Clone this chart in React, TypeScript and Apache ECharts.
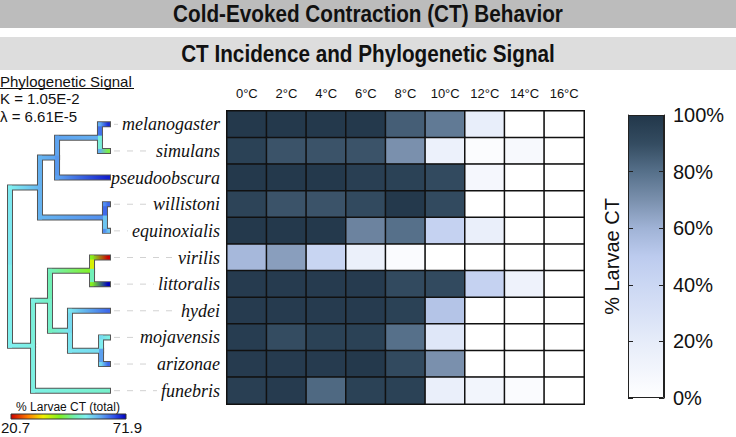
import React, { useEffect, useRef } from 'react';
import * as echarts from 'echarts';

// ---------- data ----------
const temperatures = ['0°C', '2°C', '4°C', '6°C', '8°C', '10°C', '12°C', '14°C', '16°C'];
const species = ['melanogaster', 'simulans', 'pseudoobscura', 'willistoni', 'equinoxialis', 'virilis', 'littoralis', 'hydei', 'mojavensis', 'arizonae', 'funebris'];

const ctMelanogaster = [99, 99, 99, 99, 85, 77, 18, 0, 0];
const ctSimulans = [95, 88, 88, 88, 70, 15, 3, 6, 0];
const ctPseudoobscura = [99, 99, 99, 96, 95, 91, 8, 0, 0];
const ctWillistoni = [94, 88, 88, 91, 99, 91, 0, 0, 0];
const ctEquinoxialis = [99, 99, 99, 74, 80, 44, 17, 0, 0];
const ctVirilis = [58, 66, 42, 16, 4, 0, 0, 0, 0];
const ctLittoralis = [98, 98, 98, 98, 91, 91, 44, 13, 0];
const ctHydei = [98, 98, 98, 98, 95, 53, 0, 0, 0];
const ctMojavensis = [97, 90, 95, 95, 80, 25, 0, 0, 0];
const ctArizonae = [98, 98, 98, 99, 91, 70, 0, 0, 0];
const ctFunebris = [96, 98, 82, 95, 95, 17, 10, 4, 0];
const ctRows = [ctMelanogaster, ctSimulans, ctPseudoobscura, ctWillistoni, ctEquinoxialis, ctVirilis, ctLittoralis, ctHydei, ctMojavensis, ctArizonae, ctFunebris];

const colorbarTicks = [0, 20, 40, 60, 80, 100];

// phylogeny: internal nodes (depth = relative branch position, trait = reconstructed % larvae CT)
const treeNodeNames = ['root', 'nB', 'nA', 'nMS', 'nWE', 'nC', 'nD', 'nVL', 'nE', 'nMA'];
const treeNodeParents = [-1, 0, 1, 2, 1, 0, 5, 6, 6, 8];
const treeNodeDepths = [0, 0.306, 0.48, 0.918, 0.969, 0.235, 0.408, 0.837, 0.612, 0.929];
const treeNodeTraits = [54, 59.5, 61, 60, 62.5, 53, 50, 42, 55, 56];
// leaves follow species order
const leafParents = [3, 3, 2, 4, 4, 7, 7, 8, 9, 9, 5];
const leafTraits = [69, 44, 70, 65, 58, 20.7, 71.9, 65, 53, 65, 51];
const traitMin = 20.7;
const traitMax = 71.9;
const phyloK = '1.05E-2';
const phyloLambda = '6.61E-5';

// ---------- colour scales ----------
const ctColors = ['#ffffff', '#f2f5fc', '#e6ecf9', '#d8e1f6', '#cbd7f3', '#bccbee', '#a0b3d6', '#7a90ad', '#56708a', '#344c61', '#22374a'];
const traitStops: [number, string][] = [
  [0, '#cc0000'], [0.15, '#ff8000'], [0.28, '#f0f000'], [0.42, '#80f020'], [0.55, '#70f0b0'],
  [0.65, '#80f0f0'], [0.78, '#60a8f0'], [0.9, '#3050e8'], [1, '#0000c0'],
];

const hexToRgb = (h: string) => [parseInt(h.slice(1, 3), 16), parseInt(h.slice(3, 5), 16), parseInt(h.slice(5, 7), 16)];
function traitColor(v: number): string {
  const t = Math.max(0, Math.min(1, (v - traitMin) / (traitMax - traitMin)));
  for (let i = 1; i < traitStops.length; i++) {
    const [o1, c1] = traitStops[i - 1];
    const [o2, c2] = traitStops[i];
    if (t <= o2 + 1e-9) {
      const k = (t - o1) / (o2 - o1);
      const a = hexToRgb(c1), b = hexToRgb(c2);
      return `rgb(${Math.round(a[0] + (b[0] - a[0]) * k)},${Math.round(a[1] + (b[1] - a[1]) * k)},${Math.round(a[2] + (b[2] - a[2]) * k)})`;
    }
  }
  return traitStops[traitStops.length - 1][1];
}

// ---------- layout ----------
const W = 736, H = 437;
const HEAT_LEFT = 227, HEAT_TOP = 111, HEAT_W = 357, HEAT_H = 293;
const LABEL_MARGIN = 7;
const LABEL_FONT_SIZE = 18;
const LABEL_FONT = "'Liberation Serif', 'Times New Roman', serif";

function nodeY(n: number): number {
  const ys: number[] = [];
  treeNodeParents.forEach((p, j) => { if (p === n) ys.push(nodeY(j)); });
  leafParents.forEach((p, i) => { if (p === n) ys.push(i + 0.5); });
  return ys.reduce((a, b) => a + b, 0) / ys.length;
}

type Edge = { pD: number; pY: number; cD: number; cY: number; pT: number; cT: number; leaf: number };
function buildEdges(): Edge[] {
  const edges: Edge[] = [];
  for (let j = 1; j < treeNodeNames.length; j++) {
    const p = treeNodeParents[j];
    edges.push({ pD: treeNodeDepths[p], pY: nodeY(p), cD: treeNodeDepths[j], cY: nodeY(j), pT: treeNodeTraits[p], cT: treeNodeTraits[j], leaf: -1 });
  }
  leafParents.forEach((p, i) => {
    edges.push({ pD: treeNodeDepths[p], pY: nodeY(p), cD: 1, cY: i + 0.5, pT: treeNodeTraits[p], cT: leafTraits[i], leaf: i });
  });
  return edges;
}

export default function App() {
  const ref = useRef<HTMLDivElement>(null);
  useEffect(() => {
    if (!ref.current) return;
    const chart = echarts.init(ref.current, null, { renderer: 'svg' });
    const edges = buildEdges();
    const cvs = document.createElement('canvas');
    const ctx = cvs.getContext('2d')!;
    ctx.font = `italic ${LABEL_FONT_SIZE}px ${LABEL_FONT}`;
    const labelRight = HEAT_LEFT - LABEL_MARGIN;

    const heatData: number[][] = [];
    ctRows.forEach((row, r) => row.forEach((v, c) => heatData.push([c, r, v])));

    const outlineItem = (params: any, api: any) => {
      const e = edges[params.dataIndex];
      const p0 = api.coord([e.pD, e.pY]);
      const p1 = api.coord([e.pD, e.cY]);
      const p2 = api.coord([e.cD, e.cY]);
      return {
        type: 'polyline',
        shape: { points: [p0, p1, p2] },
        style: { stroke: '#555555', lineWidth: 6, fill: 'none', lineCap: 'square', lineJoin: 'miter' },
      };
    };
    const colorItem = (params: any, api: any) => {
      const e = edges[params.dataIndex];
      const p0 = api.coord([e.pD, e.pY]);
      const p1 = api.coord([e.pD, e.cY]);
      const p2 = api.coord([e.cD, e.cY]);
      const dx = Math.max(1, p2[0] - p1[0]);
      const f = Math.min(1, 4 / dx);
      const vCol = traitColor(e.pT + (e.cT - e.pT) * f);
      const children: any[] = [
        { type: 'line', shape: { x1: p0[0], y1: p0[1], x2: p1[0], y2: p1[1] }, style: { stroke: vCol, lineWidth: 4, lineCap: 'square' } },
        {
          type: 'line', shape: { x1: p1[0], y1: p1[1], x2: p2[0], y2: p2[1] },
          style: {
            stroke: new echarts.graphic.LinearGradient(p1[0], 0, p2[0] + 0.01, 0, [
              { offset: 0, color: traitColor(e.pT) }, { offset: 1, color: traitColor(e.cT) },
            ], true),
            lineWidth: 4, lineCap: 'square',
          },
        },
      ];
      if (e.leaf >= 0) {
        const tw = ctx.measureText(species[e.leaf]).width;
        const endX = labelRight - tw - 4;
        if (endX > p2[0] + 8) {
          children.push({ type: 'line', shape: { x1: p2[0] + 6, y1: p2[1], x2: endX, y2: p2[1] }, style: { stroke: '#d2d2d2', lineWidth: 1, lineDash: [6, 7] } });
        }
      }
      return { type: 'group', children };
    };

    const grad = new echarts.graphic.LinearGradient(0, 0, 0, 1,
      ctColors.slice().reverse().map((c, i) => ({ offset: i / (ctColors.length - 1), color: c })));
    const rainbow = new echarts.graphic.LinearGradient(0, 0, 1, 0, traitStops.map(([o, c]) => ({ offset: o, color: c })));

    const sans = "'Liberation Sans', Arial, sans-serif";

    chart.setOption({
      animation: false,
      grid: [
        { left: HEAT_LEFT, top: HEAT_TOP, width: HEAT_W, height: HEAT_H },
        { left: 10, top: HEAT_TOP, width: 98, height: HEAT_H },
        { left: 628, top: 115, width: 36, height: 283 },
      ],
      xAxis: [
        { type: 'category', data: temperatures, position: 'top', gridIndex: 0, axisLine: { show: false }, axisTick: { show: false }, splitLine: { show: false },
          axisLabel: { interval: 0, fontSize: 13, color: '#111', fontFamily: sans, margin: 11 } },
        { type: 'value', gridIndex: 1, min: 0, max: 1, show: false },
        { type: 'category', gridIndex: 2, data: ['CT'], show: false },
      ],
      yAxis: [
        { type: 'category', data: species, inverse: true, gridIndex: 0, axisLine: { show: false }, axisTick: { show: false }, splitLine: { show: false },
          axisLabel: { interval: 0, fontSize: LABEL_FONT_SIZE, fontStyle: 'italic', fontFamily: LABEL_FONT, color: '#111', margin: LABEL_MARGIN } },
        { type: 'value', gridIndex: 1, min: 0, max: species.length, inverse: true, show: false },
        { type: 'value', gridIndex: 2, min: colorbarTicks[0], max: colorbarTicks[colorbarTicks.length - 1], interval: 20, position: 'left', z: 5,
          axisLine: { show: true, lineStyle: { color: '#222', width: 1 } }, axisTick: { show: true, inside: true, length: 5, lineStyle: { color: '#222' } },
          axisLabel: { show: false }, splitLine: { show: false },
          name: '% Larvae CT', nameLocation: 'middle', nameRotate: 90, nameGap: 6, nameTextStyle: { fontSize: 20, fontFamily: sans, color: '#111' } },
        { type: 'value', gridIndex: 2, min: colorbarTicks[0], max: colorbarTicks[colorbarTicks.length - 1], interval: 20, position: 'right', z: 5,
          axisLine: { show: true, lineStyle: { color: '#222', width: 1 } }, axisTick: { show: true, inside: true, length: 5, lineStyle: { color: '#222' } },
          axisLabel: { show: true, formatter: '{value}%', fontSize: 20, fontFamily: sans, color: '#111', margin: 9 }, splitLine: { show: false } },
      ],
      visualMap: {
        type: 'continuous', show: false, min: 0, max: 100, dimension: 2, seriesIndex: 0,
        inRange: { color: ctColors },
      },
      series: [
        {
          type: 'heatmap', xAxisIndex: 0, yAxisIndex: 0, data: heatData,
          itemStyle: { borderColor: '#111', borderWidth: 1.5 },
          emphasis: { disabled: true }, silent: true,
        },
        { type: 'custom', xAxisIndex: 1, yAxisIndex: 1, data: edges.map(e => [e.cD, e.cY]), renderItem: outlineItem, silent: true, clip: false },
        { type: 'custom', xAxisIndex: 1, yAxisIndex: 1, data: edges.map(e => [e.cD, e.cY]), renderItem: colorItem, silent: true, clip: false },
        {
          type: 'bar', xAxisIndex: 2, yAxisIndex: 2, data: [colorbarTicks[colorbarTicks.length - 1]], barWidth: '100%', silent: true, z: 1,
          itemStyle: { color: grad, borderColor: '#222', borderWidth: 1 },
        },
      ],
      graphic: [
        { type: 'rect', z: -10, shape: { x: 0, y: 0, width: W, height: 28 }, style: { fill: '#bcbcbc' } },
        { type: 'rect', z: -10, shape: { x: 0, y: 37, width: W, height: 33 }, style: { fill: '#dddddd' } },
        { type: 'text', x: 368, y: 14.5, scaleX: 0.9, style: { text: 'Cold-Evoked Contraction (CT) Behavior', fontSize: 23, fontWeight: 'bold', fontFamily: sans, fill: '#111', align: 'center', verticalAlign: 'middle' } },
        { type: 'text', x: 368, y: 54, scaleX: 0.9, style: { text: 'CT Incidence and Phylogenetic Signal', fontSize: 23, fontWeight: 'bold', fontFamily: sans, fill: '#111', align: 'center', verticalAlign: 'middle' } },
        { type: 'text', x: 0, y: 81, style: { text: 'Phylogenetic Signal', fontSize: 15, fontFamily: sans, fill: '#111', verticalAlign: 'middle' } },
        { type: 'line', shape: { x1: 0, y1: 88.5, x2: 134, y2: 88.5 }, style: { stroke: '#111', lineWidth: 1 } },
        { type: 'text', x: 0, y: 98, style: { text: `K = ${phyloK}`, fontSize: 15, fontFamily: sans, fill: '#111', verticalAlign: 'middle' } },
        { type: 'text', x: 0, y: 116, style: { text: `λ = ${phyloLambda}`, fontSize: 15, fontFamily: sans, fill: '#111', verticalAlign: 'middle' } },
        { type: 'text', x: 68, y: 407, style: { text: '% Larvae CT (total)', fontSize: 12, fontFamily: sans, fill: '#111', align: 'center', verticalAlign: 'middle' } },
        { type: 'rect', shape: { x: 11, y: 414, width: 115, height: 5 }, style: { fill: rainbow, stroke: '#333', lineWidth: 1 } },
        { type: 'text', x: 1, y: 427, style: { text: String(traitMin), fontSize: 15, fontFamily: sans, fill: '#111', verticalAlign: 'middle' } },
        { type: 'text', x: 142, y: 427, style: { text: String(traitMax), fontSize: 15, fontFamily: sans, fill: '#111', align: 'right', verticalAlign: 'middle' } },
      ],
    });
    return () => chart.dispose();
  }, []);
  return <div ref={ref} style={{ position: 'absolute', left: 0, top: 0, width: W, height: H }} />;
}
